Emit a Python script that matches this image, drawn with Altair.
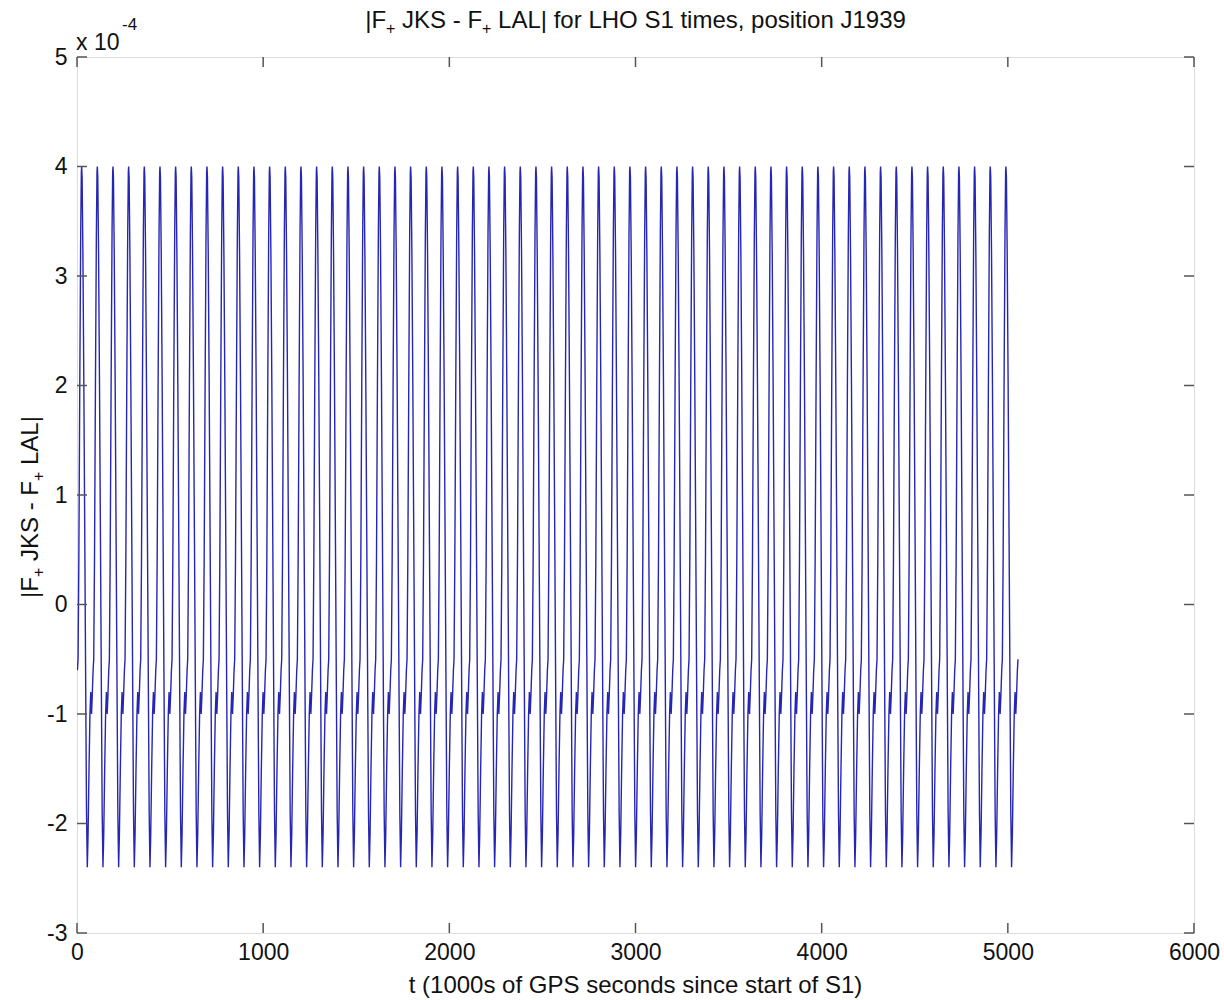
import altair as alt
import pandas as pd

# One cycle of the difference curve, phase 0 at the maximum; values in units of 1e-4
PROFILE_PHASE = [0.00, 0.03, 0.08, 0.14, 0.20, 0.26, 0.31, 0.36, 0.41, 0.47,
                 0.53, 0.58, 0.63, 0.68, 0.73, 0.77, 0.82, 0.88, 0.94, 0.98]
PROFILE_VALUE = [4.00, 3.90, 3.20, 2.00, 0.60, -0.80, -1.90, -2.40, -2.10, -1.50,
                 -1.00, -0.80, -1.00, -0.82, -0.60, -0.50, 0.40, 2.00, 3.40, 3.95]
PERIOD = 84.15        # cycle length, 1000s of GPS seconds
FIRST_PEAK = 25.0     # time of the first maximum
N_PEAKS = 60
T_START = 0.0
T_END = 5055.0

X_TICKS = [0, 1000, 2000, 3000, 4000, 5000, 6000]
Y_TICKS = [-3, -2, -1, 0, 1, 2, 3, 4, 5]

W, H = 1117, 876
FONT = "Liberation Sans"
AXIS_COLOR = "#555555"
TEXT_COLOR = "#111111"
TICK_FONT = 23
LABEL_FONT = 24
SUB_FONT = 16

rows = []
for k in range(-1, N_PEAKS):
    for ph, val in zip(PROFILE_PHASE, PROFILE_VALUE):
        t = FIRST_PEAK + (k + ph) * PERIOD
        if T_START <= t <= T_END:
            rows.append({"t": t, "v": val})
curve = pd.DataFrame(rows)

xs = alt.Scale(domain=[0, 6000], nice=False, zero=False)
ys = alt.Scale(domain=[-3, 5], nice=False, zero=False)

# plain integer labels with an ASCII minus
X_AXIS = alt.Axis(values=X_TICKS, title=None, grid=False, ticks=False, domain=False,
                  labelFont=FONT, labelFontSize=TICK_FONT, labelColor=TEXT_COLOR,
                  labelPadding=8, labelFlush=False, labelExpr="'' + datum.value")
Y_AXIS = alt.Axis(values=Y_TICKS, title=None, grid=False, ticks=False, domain=False,
                  labelFont=FONT, labelFontSize=TICK_FONT, labelColor=TEXT_COLOR,
                  labelPadding=10, labelFlush=False, labelBaseline="middle",
                  labelExpr="'' + datum.value")

line = alt.Chart(curve).mark_line(color="#2626b4", strokeWidth=1.4, clip=True).encode(
    x=alt.X("t:Q", scale=xs, axis=X_AXIS),
    y=alt.Y("v:Q", scale=ys, axis=Y_AXIS),
)

# inward tick marks on all four sides of the box
xt = pd.DataFrame({"t": X_TICKS})
yt = pd.DataFrame({"v": Y_TICKS})
tick_style = dict(color=AXIS_COLOR, strokeWidth=1.5)

x_bottom = alt.Chart(xt).mark_rule(**tick_style).encode(
    x=alt.X("t:Q", scale=xs, axis=X_AXIS), y=alt.value(H), y2=alt.value(H - 10))
x_top = alt.Chart(xt).mark_rule(**tick_style).encode(
    x=alt.X("t:Q", scale=xs, axis=X_AXIS), y=alt.value(0), y2=alt.value(10))
y_left = alt.Chart(yt).mark_rule(**tick_style).encode(
    y=alt.Y("v:Q", scale=ys, axis=Y_AXIS), x=alt.value(0), x2=alt.value(10))
y_right = alt.Chart(yt).mark_rule(**tick_style).encode(
    y=alt.Y("v:Q", scale=ys, axis=Y_AXIS), x=alt.value(W), x2=alt.value(W - 10))

# Arial / Liberation Sans advance widths (per 1000 em) for laying out text runs
ADV = {'|': 260, 'F': 611, ' ': 278, 'J': 500, 'K': 667, 'S': 667, '-': 333,
       'L': 556, 'A': 667, 'f': 278, 'o': 556, 'r': 333, 'H': 722, 'O': 778,
       '1': 556, 't': 278, 'i': 222, 'm': 833, 'e': 556, 's': 500, ',': 278,
       'p': 556, 'n': 556, '9': 556, '3': 556, '+': 584}


def run_width(text, size):
    return sum(ADV.get(c, 556) for c in text) * size / 1000.0


def label(text, x, y, size, angle=0, align="left", baseline="alphabetic"):
    return alt.Chart(pd.DataFrame({"s": [text]})).mark_text(
        font=FONT, fontSize=size, color=TEXT_COLOR, align=align, baseline=baseline,
        angle=angle,
    ).encode(text="s:N", x=alt.value(x), y=alt.value(y))


def rich_text(runs, center, base, sub_shift, vertical=False):
    """runs: list of (text, is_subscript). Laid out horizontally, or bottom-to-top.
    Leading/trailing spaces are turned into explicit gaps."""
    sizes = [SUB_FONT if sub else LABEL_FONT for _, sub in runs]
    total = sum(run_width(t, s) for (t, _), s in zip(runs, sizes))
    step = -1 if vertical else 1
    pos = center - step * total / 2
    layers = []
    for (text, sub), size in zip(runs, sizes):
        body = text.strip(" ")
        lead = len(text) - len(text.lstrip(" "))
        trail = len(text) - len(text.rstrip(" "))
        pos += step * run_width(" " * lead, size)
        off = sub_shift if sub else 0
        if vertical:
            layers.append(label(body, base + off, pos, size, angle=270))
        else:
            layers.append(label(body, pos, base + off, size))
        pos += step * (run_width(body, size) + run_width(" " * trail, size))
    return layers


title = rich_text([("|F", False), ("+", True), (" JKS - F", False), ("+", True),
                   (" LAL| for LHO S1 times, position J1939", False)],
                  center=W / 2, base=-29, sub_shift=6)
ylabel = rich_text([("|F", False), ("+", True), (" JKS - F", False), ("+", True),
                    (" LAL|", False)],
                   center=450, base=-39, sub_shift=6, vertical=True)
xlabel = [label("t (1000s of GPS seconds since start of S1)", W / 2, 936, LABEL_FONT,
                align="center")]
mult = [label("x 10", -1, -7, TICK_FONT), label("-4", 45, -27, 17)]

chart = alt.layer(
    line, x_bottom, x_top, y_left, y_right, *title, *ylabel, *xlabel, *mult
).properties(
    width=W, height=H,
    autosize=alt.AutoSizeParams(type="none"),
    padding={"left": 77, "top": 57, "right": 30, "bottom": 67},
).configure_view(
    stroke=AXIS_COLOR, strokeWidth=1.5,
).configure(background="white")

chart.save("out.html", embed_options={"renderer": "svg", "actions": False})
